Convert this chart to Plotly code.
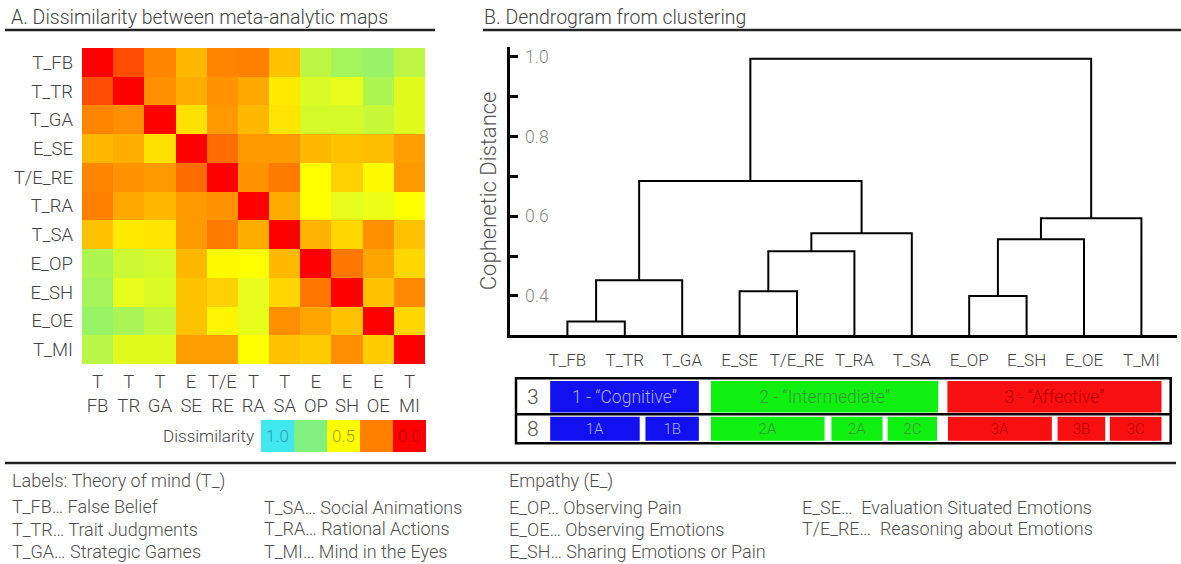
import plotly.graph_objects as go

W, H = 1181, 564
def px(x): return x / W
def py(y): return 1 - y / H

# ---------------- data ----------------
maps = ["T_FB", "T_TR", "T_GA", "E_SE", "T/E_RE", "T_RA", "T_SA", "E_OP", "E_SH", "E_OE", "T_MI"]
col_labels = ["T<br>FB", "T<br>TR", "T<br>GA", "E<br>SE", "T/E<br>RE", "T<br>RA", "T<br>SA",
              "E<br>OP", "E<br>SH", "E<br>OE", "T<br>MI"]
dissim = [
    [0.00, 0.15, 0.26, 0.36, 0.26, 0.25, 0.38, 0.63, 0.68, 0.70, 0.63],
    [0.15, 0.00, 0.28, 0.34, 0.29, 0.33, 0.46, 0.57, 0.55, 0.66, 0.56],
    [0.26, 0.28, 0.00, 0.44, 0.30, 0.36, 0.45, 0.58, 0.58, 0.61, 0.56],
    [0.36, 0.34, 0.44, 0.00, 0.21, 0.30, 0.30, 0.36, 0.38, 0.37, 0.31],
    [0.26, 0.29, 0.30, 0.21, 0.00, 0.29, 0.24, 0.50, 0.41, 0.49, 0.30],
    [0.25, 0.33, 0.36, 0.30, 0.29, 0.00, 0.34, 0.50, 0.55, 0.54, 0.50],
    [0.38, 0.46, 0.45, 0.30, 0.24, 0.34, 0.00, 0.35, 0.42, 0.28, 0.38],
    [0.66, 0.60, 0.58, 0.36, 0.49, 0.50, 0.36, 0.00, 0.23, 0.32, 0.42],
    [0.68, 0.55, 0.57, 0.38, 0.41, 0.55, 0.42, 0.23, 0.00, 0.38, 0.27],
    [0.70, 0.67, 0.62, 0.38, 0.48, 0.55, 0.28, 0.32, 0.38, 0.00, 0.42],
    [0.64, 0.56, 0.56, 0.31, 0.31, 0.50, 0.38, 0.40, 0.28, 0.40, 0.00],
]
scale_values = [1.0, 0.75, 0.5, 0.25, 0.0]
scale_labels = ["1.0", "", "0.5", "", "0.0"]

# dendrogram: leaves in order, merges (node a, node b, cophenetic height)
leaves = ["T_FB", "T_TR", "T_GA", "E_SE", "T/E_RE", "T_RA", "T_SA", "E_OP", "E_SH", "E_OE", "T_MI"]
merges = [
    (0, 1, 0.336), (11, 2, 0.439),
    (3, 4, 0.412), (13, 5, 0.512), (14, 6, 0.557),
    (12, 15, 0.688),
    (7, 8, 0.400), (17, 9, 0.542), (18, 10, 0.595),
    (16, 19, 0.995),
]
y_ticks = [0.4, 0.5, 0.6, 0.7, 0.8, 0.9, 1.0]
y_ticktext = ["0.4", "", "0.6", "", "0.8", "", "1.0"]

# cluster solutions (spans in leaf units)
k3_labels = ["1 - \u201cCognitive\u201d", "2 - \u201cIntermediate\u201d", "3 - \u201cAffective\u201d"]
k3_group = [0, 1, 2]
k3_start = [-0.30, 2.50, 6.62]
k3_end = [2.29, 6.46, 10.35]
k8_labels = ["1A", "1B", "2A", "2A", "2C", "3A", "3B", "3C"]
k8_group = [0, 0, 1, 1, 1, 2, 2, 2]
k8_start = [-0.30, 1.36, 2.50, 4.60, 5.58, 6.63, 8.54, 9.45]
k8_end = [1.26, 2.29, 4.48, 5.49, 6.44, 8.44, 9.37, 10.35]

# ---------------- style ----------------
FONT = "Roboto, 'Liberation Sans', Arial, sans-serif"
TXT = "#444444"
colorscale = [[0.0, "#ff0000"], [0.25, "#ff8000"], [0.5, "#ffff00"], [0.75, "#80f080"], [1.0, "#40e8f0"]]
group_fill = ["#1010f0", "#10f010", "#f81010"]
group_text = ["#a8acff", "#359a35", "#b80000"]

fig = go.Figure()

# ---- A: heatmap ----
fig.add_trace(go.Heatmap(z=dissim, x=maps, y=maps, colorscale=colorscale, zmin=0, zmax=1,
                         showscale=False, xaxis="x", yaxis="y", hoverinfo="skip"))

# colour key as discrete blocks
fig.add_trace(go.Heatmap(z=[scale_values], x=list(range(len(scale_values))), y=["Dissimilarity"],
                         colorscale=colorscale, zmin=0, zmax=1, showscale=False,
                         xaxis="x4", yaxis="y4", hoverinfo="skip"))
lab_colors = {"1.0": "#3a9ab8", "0.5": "#a0a020", "0.0": "#b80000"}
for i, t in enumerate(scale_labels):
    if t:
        fig.add_annotation(x=i, y="Dissimilarity", xref="x4", yref="y4", text=t, showarrow=False,
                           font=dict(size=17, color=lab_colors[t], family=FONT, weight=300))

# ---- B: dendrogram ----
y_min, y_max = 0.302, 1.025
node_x = {i: float(i) for i in range(len(leaves))}
node_h = {i: y_min for i in range(len(leaves))}
lx, ly = [], []
for k, (a, b, h) in enumerate(merges):
    nid = len(leaves) + k
    lx += [node_x[a], node_x[a], node_x[b], node_x[b], None]
    ly += [node_h[a], h, h, node_h[b], None]
    node_x[nid] = (node_x[a] + node_x[b]) / 2
    node_h[nid] = h
fig.add_trace(go.Scatter(x=lx, y=ly, mode="lines", line=dict(color="black", width=2),
                         xaxis="x2", yaxis="y2", hoverinfo="skip", showlegend=False, cliponaxis=False))
# empty trace that carries the tick-label axis of the dendrogram
fig.add_trace(go.Scatter(x=[], y=[], mode="lines", xaxis="x2", yaxis="y5",
                         hoverinfo="skip", showlegend=False))

# ---- cluster bars ----
def add_bars(labels, groups, starts, ends, row, width, size):
    fig.add_trace(go.Bar(
        orientation="h", y=[row] * len(labels), base=starts,
        x=[e - s for s, e in zip(starts, ends)], width=width,
        marker=dict(color=[group_fill[g] for g in groups], line=dict(width=0)),
        text=labels, textposition="inside", insidetextanchor="middle", textangle=0,
        textfont=dict(color=[group_text[g] for g in groups], size=size, family=FONT, weight=300),
        constraintext="none", xaxis="x3", yaxis="y3", hoverinfo="skip", showlegend=False))

add_bars(k3_labels, k3_group, k3_start, k3_end, 1, 0.98, 17.5)
add_bars(k8_labels, k8_group, k8_start, k8_end, 0, 0.75, 15)

# ---------------- layout ----------------
axis_font = dict(size=18.5, color=TXT, family=FONT, weight=300)
leaf_font = dict(size=17, color=TXT, family=FONT, weight=300)
leaf_px0, leaf_dx = 567.4, 57.4
dend_dom = [py(335), py(46.7)]

fig.update_layout(
    width=W, height=H, margin=dict(l=0, r=0, t=0, b=0),
    paper_bgcolor="white", plot_bgcolor="white", showlegend=False, barmode="overlay",
    font=dict(family=FONT, color=TXT, weight=300),
    xaxis=dict(domain=[px(82), px(425)], tickvals=maps, ticktext=col_labels, showgrid=False,
               zeroline=False, ticks="", tickfont=axis_font, ticklabelstandoff=4, fixedrange=True),
    yaxis=dict(domain=[py(364), py(48)], autorange="reversed", showgrid=False, zeroline=False,
               ticks="", tickfont=axis_font, ticklabelstandoff=8),
    xaxis4=dict(domain=[px(261), px(426)], showticklabels=False, showgrid=False, zeroline=False,
                anchor="y4"),
    yaxis4=dict(domain=[py(452), py(420)], showgrid=False, zeroline=False, ticks="",
                tickfont=leaf_font, ticklabelstandoff=6, anchor="x4"),
    xaxis2=dict(domain=[px(510), px(1177)],
                range=[(510 - leaf_px0) / leaf_dx, (1177 - leaf_px0) / leaf_dx],
                tickvals=list(range(len(leaves))), ticktext=leaves, tickfont=leaf_font,
                showline=True, linecolor="black", linewidth=2.5, ticks="", showgrid=False,
                zeroline=False, ticklabelstandoff=8, anchor="y2"),
    yaxis2=dict(domain=dend_dom, range=[y_min, y_max], tickvals=y_ticks,
                showticklabels=False, showline=True, linecolor="black", linewidth=2.5,
                ticks="inside", ticklen=8, tickwidth=2.5, tickcolor="black",
                showgrid=False, zeroline=False, anchor="x2",
                title=dict(text="Cophenetic Distance", standoff=5,
                           font=dict(size=22, color="#555555", family=FONT, weight=300))),
    yaxis5=dict(domain=dend_dom, range=[y_min, y_max], tickvals=y_ticks, ticktext=y_ticktext,
                overlaying="y2", side="right", anchor="free", position=px(518),
                showline=False, ticks="", showgrid=False, zeroline=False, ticklabelstandoff=6,
                tickfont=dict(size=17.5, color="#8a8a8a", family=FONT, weight=300)),
    xaxis3=dict(domain=[px(516), px(1170.7)],
                range=[(516 - leaf_px0) / leaf_dx, (1170.7 - leaf_px0) / leaf_dx],
                showticklabels=False, showgrid=False, zeroline=False, anchor="y3"),
    yaxis3=dict(domain=[py(443.3), py(378.3)], range=[-0.456, 1.575], tickvals=[1, 0],
                ticktext=["3", "8"], ticks="", ticklabelposition="inside", ticklabelstandoff=8,
                tickfont=dict(size=21, color="#555555", family=FONT, weight=300),
                showgrid=False, zeroline=False, anchor="x3"),
)

# frame of the cluster table
fig.add_shape(type="rect", xref="x3 domain", yref="y3 domain", x0=0, x1=1, y0=0, y1=1,
              line=dict(color="black", width=2.5))
fig.add_shape(type="line", xref="x3 domain", yref="y3", x0=0, x1=1, y0=0.45, y1=0.45,
              line=dict(color="black", width=2.5))

# panel titles and rules
title_font = dict(size=19.5, color=TXT, family=FONT, weight=300)
fig.add_annotation(x=px(9), y=py(18), xref="paper", yref="paper", xanchor="left", yanchor="middle",
                   text="A. Dissimilarity between meta-analytic maps", showarrow=False, font=title_font)
fig.add_annotation(x=px(482), y=py(18), xref="paper", yref="paper", xanchor="left", yanchor="middle",
                   text="B. Dendrogram from clustering", showarrow=False, font=title_font)
for x0, x1, y in [(5, 435, 30), (483, 1181, 30), (5, 1176, 463)]:
    fig.add_shape(type="line", xref="paper", yref="paper", x0=px(x0), x1=px(x1), y0=py(y), y1=py(y),
                  line=dict(color="#222222", width=2.5))

# label glossary
glossary = [
    (10, 481, "Labels: Theory of mind (T_)"),
    (10, 506, "T_FB\u2026 False Belief"),
    (10, 529, "T_TR\u2026 Trait Judgments"),
    (10, 551, "T_GA\u2026 Strategic Games"),
    (262, 507, "T_SA\u2026 Social Animations"),
    (262, 528, "T_RA\u2026 Rational Actions"),
    (262, 551, "T_MI\u2026 Mind in the Eyes"),
    (507, 481, "Empathy (E_)"),
    (507, 507, "E_OP\u2026 Observing Pain"),
    (507, 529, "E_OE\u2026 Observing Emotions"),
    (507, 551, "E_SH\u2026 Sharing Emotions or Pain"),
    (800, 507, "E_SE\u2026  Evaluation Situated Emotions"),
    (800, 528, "T/E_RE\u2026  Reasoning about Emotions"),
]
for gx, gy, t in glossary:
    fig.add_annotation(x=px(gx), y=py(gy), xref="paper", yref="paper", xanchor="left",
                       yanchor="middle", text=t, showarrow=False,
                       font=dict(size=18, color="#505050", family=FONT, weight=300))

fig.write_html("out.html")
